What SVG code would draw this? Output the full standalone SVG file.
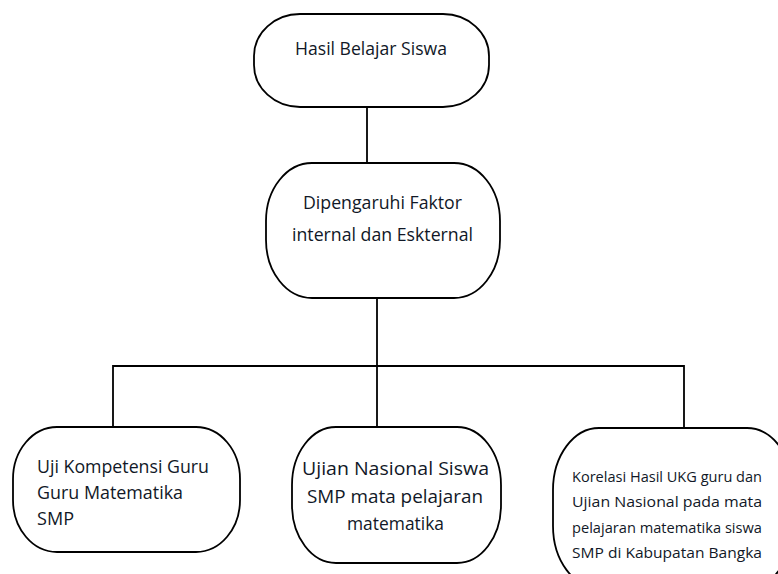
<svg xmlns="http://www.w3.org/2000/svg" width="778" height="574" viewBox="0 0 778 574">
<style>
.box{fill:#fff;stroke:#000;stroke-width:1.8}
.ln{fill:none;stroke:#000;stroke-width:1.8}
text{font-family:"Open Sans","Liberation Sans",sans-serif;fill:#111827}
.t{font-size:18px}
.s{font-size:14px}
</style>
<rect width="778" height="574" fill="#fff"/>
<g id="connectors">
<line class="ln" x1="367" y1="107" x2="367" y2="163"/>
<line class="ln" x1="377" y1="298" x2="377" y2="427"/>
<polyline class="ln" points="113,427 113,366 684,366 684,428"/>
</g>
<g id="n1">
<rect class="box" x="254" y="14" width="235" height="93" rx="46" ry="42"/>
<text class="t" x="295" y="55" textLength="152" lengthAdjust="spacingAndGlyphs">Hasil Belajar Siswa</text>
</g>
<g id="n2">
<rect class="box" x="266" y="163" width="234" height="135" rx="46" ry="58"/>
<text class="t" x="303" y="209" textLength="159" lengthAdjust="spacingAndGlyphs">Dipengaruhi Faktor</text>
<text class="t" x="292" y="241" textLength="181" lengthAdjust="spacingAndGlyphs">internal dan Eskternal</text>
</g>
<g id="n3">
<rect class="box" x="13" y="427" width="227" height="125" rx="44" ry="52"/>
<text class="t" x="37" y="473" textLength="172" lengthAdjust="spacingAndGlyphs">Uji Kompetensi Guru</text>
<text class="t" x="37" y="499" textLength="146" lengthAdjust="spacingAndGlyphs">Guru Matematika</text>
<text class="t" x="37" y="525" textLength="37" lengthAdjust="spacingAndGlyphs">SMP</text>
</g>
<g id="n4">
<rect class="box" x="292" y="427" width="209" height="136" rx="44" ry="58"/>
<text class="t" x="302" y="475" textLength="187" lengthAdjust="spacingAndGlyphs">Ujian Nasional  Siswa</text>
<text class="t" x="307" y="503" textLength="176" lengthAdjust="spacingAndGlyphs">SMP mata pelajaran</text>
<text class="t" x="347" y="530" textLength="97" lengthAdjust="spacingAndGlyphs">matematika</text>
</g>
<g id="n5">
<rect class="box" x="553" y="428" width="240" height="160" rx="46" ry="62"/>
<text class="s" x="572" y="482" textLength="190" lengthAdjust="spacingAndGlyphs">Korelasi Hasil UKG guru dan</text>
<text class="s" x="572" y="507" textLength="190" lengthAdjust="spacingAndGlyphs">Ujian Nasional pada mata</text>
<text class="s" x="572" y="533" textLength="190" lengthAdjust="spacingAndGlyphs">pelajaran matematika siswa</text>
<text class="s" x="572" y="558" textLength="190" lengthAdjust="spacingAndGlyphs">SMP di Kabupatan Bangka</text>
</g>
</svg>
